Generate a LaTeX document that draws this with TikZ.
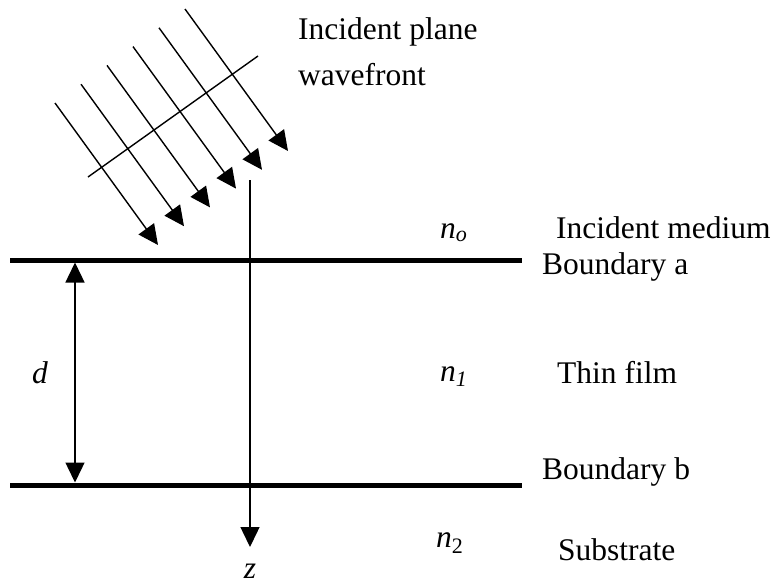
\documentclass[tikz,border=0pt]{standalone}
\usepackage{fontspec}
\setmainfont{Liberation Serif}
\usetikzlibrary{arrows.meta, calc}
\definecolor{tfInk}{HTML}{000000}
\tikzset{
  tflabel/.style={
    font=\fontsize{31.5}{38}\selectfont, text=tfInk, inner sep=0pt,
    anchor=base west,
  },
  tfboundary/.style={draw=tfInk, line width=5pt},
  tfthin/.style={draw=tfInk, line width=1.4pt},
  tfarrow/.style={
    -{Triangle[length=20pt, width=19pt]}, draw=tfInk, line width=1.4pt,
  },
  tfdouble/.style={
    {Triangle[length=20pt, width=19pt]}-{Triangle[length=20pt, width=19pt]},
    draw=tfInk, line width=1.4pt,
  },
}
\newcommand{\tfidx}[2]{\textit{#1}\textsubscript{\itshape #2}}

\begin{document}
\begin{tikzpicture}[x=1pt, y=-1pt]
\useasboundingbox (0,0) rectangle (781,584);

% Incident wavefront ------------------------------------------------------
\foreach \i in {0,...,5}{%
  \coordinate (ray\i-s) at ({55+26*\i},{103-18.8*\i});
  \coordinate (ray\i-e) at ($(ray\i-s)+(103,142)$);
  \draw[tfarrow] (ray\i-s) -- (ray\i-e);
}
\coordinate (wave-a) at (88,177);
\coordinate (wave-b) at (258,56);
\draw[tfthin] (wave-a) -- (wave-b);

\node[tflabel] (wavetxt1) at (298,39) {Incident plane};
\node[tflabel] (wavetxt2) at (298,85) {wavefront};

% Layers ------------------------------------------------------------------
\coordinate (ba-w) at (10,260);
\coordinate (ba-e) at (522,260);
\coordinate (bb-w) at (10,485);
\coordinate (bb-e) at (522,485);
\draw[tfboundary] (ba-w) -- (ba-e);
\draw[tfboundary] (bb-w) -- (bb-e);

% Axes --------------------------------------------------------------------
\coordinate (z-top) at (250,180);
\coordinate (z-tip) at (250,547);
\draw[tfarrow] (z-top) -- (z-tip);
\node[tflabel, anchor=base] (zlbl) at (250,578) {\textit{z}};

\coordinate (d-top) at (75,262.5);
\coordinate (d-bot) at (75,482.5);
\draw[tfdouble] (d-top) -- (d-bot);
\node[tflabel, anchor=base] (dlbl) at (40,383) {\textit{d}};

% Labels ------------------------------------------------------------------
\node[tflabel] (n0) at (440,238) {\tfidx{n}{o}};
\node[tflabel] (n1) at (440,381) {\tfidx{n}{1}};
\node[tflabel] (n2) at (436,547) {\textit{n}\textsubscript{2}};

\node[tflabel] (medium) at (556,238) {Incident medium};
\node[tflabel] (bnda) at (542,274) {Boundary a};
\node[tflabel] (film) at (557,383) {Thin film};
\node[tflabel] (bndb) at (542,479) {Boundary b};
\node[tflabel] (subst) at (558,560) {Substrate};

\end{tikzpicture}
\end{document}
